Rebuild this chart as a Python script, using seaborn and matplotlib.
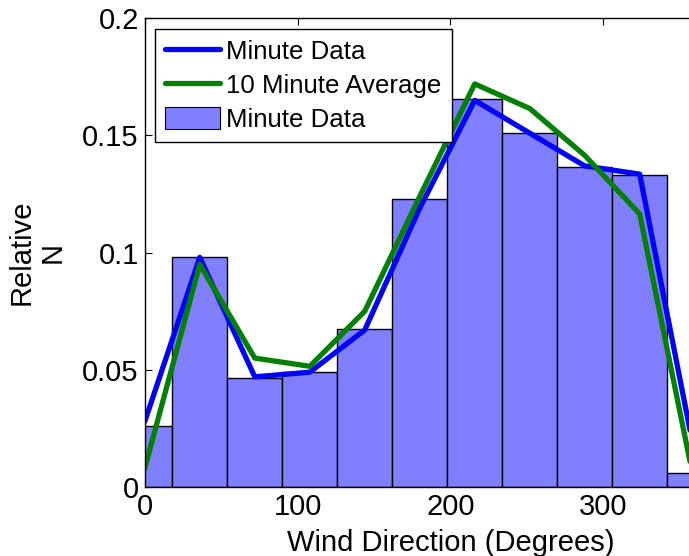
import matplotlib
matplotlib.use("Agg")
import matplotlib.pyplot as plt
import numpy as np
import pandas as pd
import seaborn as sns
from matplotlib.lines import Line2D
from matplotlib.patches import Patch

# Wind direction bins (degrees, bin centres) and relative frequencies
bin_centers = [0, 36, 72, 108, 144, 180, 216, 252, 288, 324, 360]
minute_hist = [0.0262, 0.0981, 0.0466, 0.0489, 0.0673, 0.1228, 0.1654, 0.1512, 0.1367, 0.1331, 0.0058]
minute_line = [0.028, 0.098, 0.047, 0.049, 0.067, 0.119, 0.165, 0.151, 0.137, 0.1335, 0.014]
avg10_line = [0.008, 0.095, 0.055, 0.0515, 0.075, 0.124, 0.172, 0.1615, 0.1415, 0.1165, 0.001]
x_ticks = [0, 100, 200, 300]
y_ticks = [0, 0.05, 0.1, 0.15, 0.2]
y_tick_labels = ["0", "0.05", "0.1", "0.15", "0.2"]

df = pd.DataFrame({
    "direction": bin_centers,
    "hist": minute_hist,
    "minute": minute_line,
    "avg10": avg10_line,
})

sns.set_style("ticks")
plt.rcParams["font.family"] = ["Liberation Sans", "DejaVu Sans"]
plt.rcParams["text.color"] = "black"
plt.rcParams["axes.labelcolor"] = "black"

fig = plt.figure(figsize=(6.89, 5.56), dpi=100)
ax = fig.add_axes([144.8 / 689, 69 / 556, 611 / 689, 468.7 / 556])

bin_w = 36
sns.histplot(data=df, x="direction", weights="hist", binwidth=bin_w,
             binrange=(bin_centers[0] - bin_w / 2, bin_centers[-1] + bin_w / 2),
             ax=ax, color="#8080ff", alpha=1.0, edgecolor="black", linewidth=1.0)
sns.lineplot(data=df, x="direction", y="minute", ax=ax, color="#0000ff", linewidth=3.8)
sns.lineplot(data=df, x="direction", y="avg10", ax=ax, color="#008000", linewidth=3.8)

ax.set_xlim(0, 400)
ax.set_ylim(0, 0.2)
ax.set_xticks(x_ticks)
ax.set_yticks(y_ticks)
ax.set_yticklabels(y_tick_labels)
ax.tick_params(direction="in", top=True, right=True, length=5, width=0.8,
               labelsize=21, colors="black")
ax.tick_params(axis="x", pad=4)
ax.tick_params(axis="y", pad=4.3)
for s in ax.spines.values():
    s.set_visible(True)
    s.set_color("black")
    s.set_linewidth(1.0)

ax.set_xlabel("Wind Direction (Degrees)", fontsize=21, labelpad=6)
ax.set_ylabel("Relative\nN", fontsize=21, linespacing=1.15, labelpad=11)

handles = [
    Line2D([], [], color="#0000ff", linewidth=3.8),
    Line2D([], [], color="#008000", linewidth=3.8),
    Patch(facecolor="#8080ff", edgecolor="black", linewidth=0.8),
]
labels = ["Minute Data", "10 Minute Average", "Minute Data"]
leg = ax.legend(handles, labels, loc="upper left",
                bbox_to_anchor=(0.0167, 0.977), borderaxespad=0,
                fontsize=18.6, handlelength=2.1, handleheight=0.95,
                handletextpad=0.25, labelspacing=0.34, borderpad=0.4,
                fancybox=False, framealpha=1.0, edgecolor="black")
leg.get_frame().set_linewidth(1.0)

fig.savefig("out.png", dpi=100, facecolor="white")
